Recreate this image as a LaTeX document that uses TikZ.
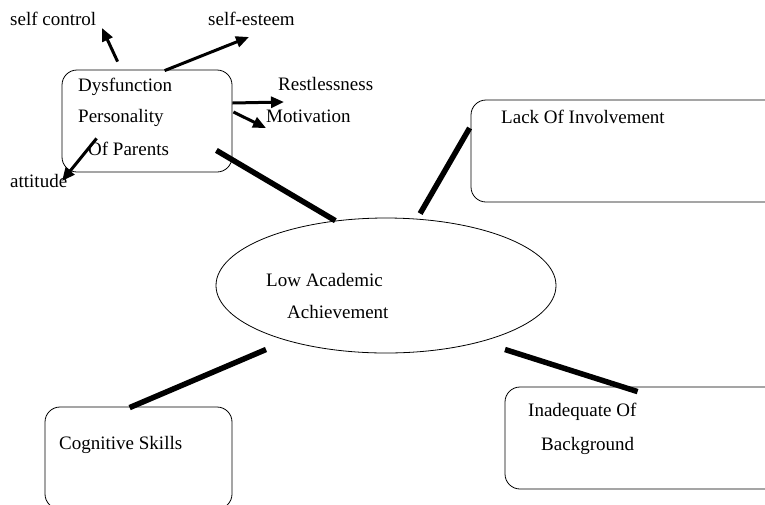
\documentclass[tikz,border=0pt]{standalone}
\usepackage{fontspec}
\setmainfont{Liberation Serif}
\usetikzlibrary{positioning,arrows.meta,shapes.geometric,calc}

\begin{document}
\begin{tikzpicture}[x=1pt, y=-1pt,
  box/.style={draw, rounded corners=15pt, line width=0.8pt, inner sep=0pt},
  oval/.style={draw, ellipse, line width=0.8pt, inner sep=0pt},
  txt/.style={anchor=base west, inner sep=0pt, font=\fontsize{19}{22}\selectfont},
  arr/.style={-{Triangle[length=13pt, width=11pt]}, line width=3pt},
  link/.style={line width=5.5pt}
]
\useasboundingbox (0,0) rectangle (765,504);

\node[box, minimum width=170pt, minimum height=102pt] (dpp) at (147,121) {};
\node[box, minimum width=310pt, minimum height=102pt] (lack) at (626,151) {};
\node[box, minimum width=187pt, minimum height=102pt] (cog) at (138.5,458) {};
\node[box, minimum width=290pt, minimum height=102pt] (inad) at (650,438) {};
\node[oval, minimum width=340pt, minimum height=135pt] (ach) at (386,285.5) {};

\node[txt] (dys) at (78,91) {Dysfunction};
\node[txt] (pers) at (78,122) {Personality};
\node[txt] (par) at (88,155) {Of Parents};
\node[txt] (selfc) at (10,25) {self control};
\node[txt] (selfe) at (208,25) {self-esteem};
\node[txt] (rest) at (278,90) {Restlessness};
\node[txt] (motiv) at (266,122) {Motivation};
\node[txt] (att) at (10,187) {attitude};
\node[txt] (lacktxt) at (501,123) {Lack Of Involvement};
\node[txt] (low) at (266,286) {Low Academic};
\node[txt] (achv) at (287,318) {Achievement};
\node[txt] (cogtxt) at (59,449) {Cognitive Skills};
\node[txt] (inadtxt) at (528,416) {Inadequate Of};
\node[txt] (backtxt) at (541,450) {Background};

\coordinate (selfcTip) at (102,28);
\coordinate (selfeTip) at (249,37);
\coordinate (restTip) at (284,102);
\coordinate (motivTip) at (266,128);
\coordinate (attTip) at (62,181);

\draw[arr] ($(dpp.north west)+(56,-8)$) -- (selfcTip);
\draw[arr] ($(dpp.north west)+(103,1)$) -- (selfeTip);
\draw[arr] ($(dpp.east)+(0,-18)$) -- (restTip);
\draw[arr] ($(dpp.east)+(1,-9)$) -- (motivTip);
\draw[arr] ($(dpp.south west)+(35,-34)$) -- (attTip);

\draw[link] ($(dpp.south east)+(-16,-22)$) -- (ach.128);
\draw[link, shorten >=6pt] ($(lack.west)+(-1,-23)$) -- (ach.65);
\draw[link] ($(ach.center)+(-120,64)$) -- ($(cog.north west)+(85,1)$);
\draw[link] ($(ach.center)+(119,64)$) -- ($(inad.north west)+(133,5)$);
\end{tikzpicture}
\end{document}
